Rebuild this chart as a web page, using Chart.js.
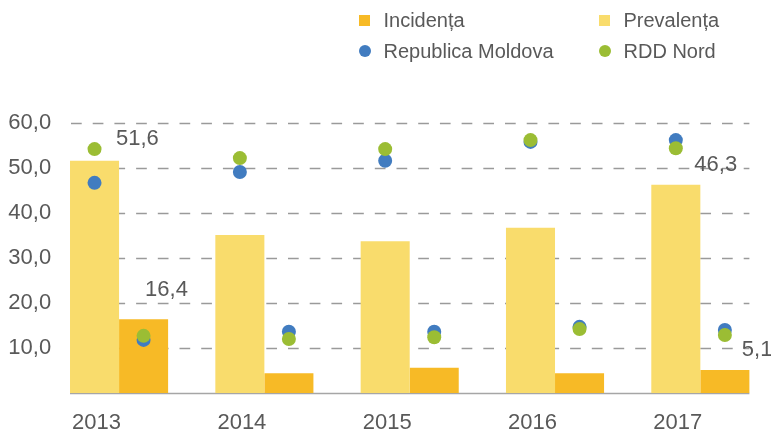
<!DOCTYPE html>
<html>
<head>
<meta charset="utf-8">
<script src="https://cdn.jsdelivr.net/npm/chart.js@4/dist/chart.umd.min.js"></script>
<style>
  body { margin: 0; overflow: hidden; background: #fff; }
  #chart { display: block; }
</style>
</head>
<body>
<canvas id="chart" width="780" height="431"></canvas>
<script>
const years = ['2013', '2014', '2015', '2016', '2017']
const prevalenta = [51.6, 35.1, 33.7, 36.7, 46.3]
const incidenta = [16.4, 4.4, 5.6, 4.4, 5.1]
const moldovaPrev = [46.7, 49.1, 51.6, 55.8, 56.2]
const moldovaInc = [11.8, 13.6, 13.6, 14.7, 14.0]
const nordPrev = [54.2, 52.2, 54.2, 56.2, 54.4]
const nordInc = [12.7, 12.0, 12.4, 14.2, 12.9]
const yMin = 0, yMax = 60, yStep = 10

const cPrev = '#F9DC6C'
const cInc = '#F7BA26'
const cBlue = '#417CC0'
const cGreen = '#9BBD34'
const textColor = '#595959'
const font = '"Liberation Sans", Arial, sans-serif'

const fmt = v => v.toFixed(1).replace('.', ',')

// puncte puse pe centrul barei corespunzatoare
const pointsOnBars = {
    id: 'pointsOnBars',
    afterDatasetsUpdate(chart) {
        chart.data.datasets.forEach((ds, i) => {
            if (ds.onBar === undefined) return
            const bars = chart.getDatasetMeta(ds.onBar).data
            chart.getDatasetMeta(i).data.forEach((pt, j) => { pt.x = bars[j].x })
        })
    }
}

const dashedGrid = {
    id: 'dashedGrid',
    beforeDatasetsDraw(chart) {
        const ctx = chart.ctx
        const y = chart.scales.y
        const first = chart.getDatasetMeta(0).data[0]
        const last = chart.getDatasetMeta(1).data[years.length - 1]
        const left = first.x - first.width / 2
        const right = last.x + last.width / 2
        ctx.save()
        ctx.strokeStyle = '#9A9A9A'
        ctx.lineWidth = 1.5
        ctx.setLineDash([10.7, 11])
        for (let v = yMin + yStep; v <= yMax; v += yStep) {
            const py = Math.round(y.getPixelForValue(v)) + 0.5
            ctx.beginPath()
            ctx.moveTo(left + 1, py)
            ctx.lineTo(right, py)
            ctx.stroke()
        }
        ctx.setLineDash([])
        ctx.strokeStyle = '#A6A6A6'
        const p0 = Math.round(y.getPixelForValue(0)) + 0.5
        ctx.beginPath()
        ctx.moveTo(left, p0)
        ctx.lineTo(right, p0)
        ctx.stroke()
        ctx.restore()
    }
}

const valueLabels = {
    id: 'valueLabels',
    afterDatasetsDraw(chart) {
        const ctx = chart.ctx
        const shown = [
            { ds: 0, i: 0, dx: 21.5, dy: -22 },
            { ds: 1, i: 0, dx: 1.5, dy: -29 },
            { ds: 0, i: 4, dx: 18.5, dy: -20 },
            { ds: 1, i: 4, dx: 17, dy: -20 }
        ]
        ctx.save()
        ctx.font = '22px ' + font
        ctx.fillStyle = textColor
        ctx.textAlign = 'left'
        ctx.textBaseline = 'middle'
        shown.forEach(s => {
            const bar = chart.getDatasetMeta(s.ds).data[s.i]
            const v = chart.data.datasets[s.ds].data[s.i]
            ctx.fillText(fmt(v), bar.x + s.dx, bar.y + s.dy)
        })
        ctx.restore()
    }
}

const gridLegend = {
    id: 'gridLegend',
    afterDraw(chart) {
        const ctx = chart.ctx
        const items = [
            { text: 'Incidența', color: cInc, shape: 'square', x: 359, y: 20.5 },
            { text: 'Prevalența', color: cPrev, shape: 'square', x: 599, y: 20.5 },
            { text: 'Republica Moldova', color: cBlue, shape: 'circle', x: 359, y: 51 },
            { text: 'RDD Nord', color: cGreen, shape: 'circle', x: 599, y: 51 }
        ]
        ctx.save()
        ctx.font = '20px ' + font
        ctx.textBaseline = 'middle'
        items.forEach(it => {
            ctx.fillStyle = it.color
            if (it.shape === 'square') {
                ctx.fillRect(it.x, it.y - 5.5, 11, 11)
            } else {
                ctx.beginPath()
                ctx.arc(it.x + 6, it.y, 6, 0, Math.PI * 2)
                ctx.fill()
            }
            ctx.fillStyle = textColor
            ctx.fillText(it.text, it.x + 24.5, it.y + 1)
        })
        ctx.restore()
    }
}

const pointDs = (label, data, color, onBar, order) => ({
    type: 'line',
    label: label,
    data: data,
    onBar: onBar,
    order: order,
    showLine: false,
    pointRadius: 7,
    pointHoverRadius: 7,
    pointBorderWidth: 0,
    backgroundColor: color,
    borderColor: color
})

new Chart(document.getElementById('chart'), {
    type: 'bar',
    data: {
        labels: years,
        datasets: [
            { label: 'Prevalența', data: prevalenta, backgroundColor: cPrev, order: 3 },
            { label: 'Incidența', data: incidenta, backgroundColor: cInc, order: 3 },
            pointDs('Republica Moldova', moldovaPrev, cBlue, 0, 2),
            pointDs('Republica Moldova', moldovaInc, cBlue, 1, 2),
            pointDs('RDD Nord', nordPrev, cGreen, 0, 1),
            pointDs('RDD Nord', nordInc, cGreen, 1, 1)
        ]
    },
    options: {
        responsive: false,
        animation: false,
        devicePixelRatio: 1,
        datasets: { bar: { barPercentage: 1, categoryPercentage: 0.675 } },
        layout: { padding: { top: 123, right: 1.4, left: 0, bottom: 0 } },
        plugins: { legend: { display: false }, tooltip: { enabled: false } },
        scales: {
            x: {
                grid: { display: false, drawTicks: false },
                border: { display: false },
                afterFit: s => { s.height = 38 },
                ticks: {
                    color: textColor,
                    font: { family: font, size: 22 },
                    padding: 17,
                    labelOffset: -22.5,
                    maxRotation: 0
                }
            },
            y: {
                min: yMin,
                max: yMax,
                grid: { display: false, drawTicks: false },
                border: { display: false },
                afterFit: s => { s.width = 46.4 },
                ticks: {
                    stepSize: yStep,
                    mirror: true,
                    color: textColor,
                    font: { family: font, size: 22 },
                    padding: -38.1,
                    callback: v => v === 0 ? '' : fmt(v)
                }
            }
        }
    },
    plugins: [pointsOnBars, dashedGrid, valueLabels, gridLegend]
})
</script>
</body>
</html>
